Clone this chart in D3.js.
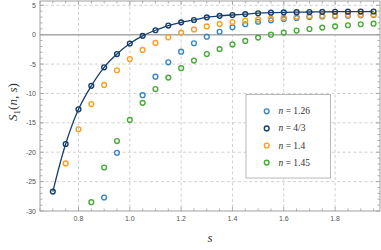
<!DOCTYPE html>
<html><head><meta charset="utf-8">
<script src="https://cdn.jsdelivr.net/npm/d3@7"></script>
<style>body{margin:0;background:#fff}svg{display:block}</style>
</head><body>
<script>
const sDark = [0.7,0.75,0.8,0.85,0.9,0.95,1.0,1.05,1.1,1.15,1.2,1.25,1.3,1.35,1.4,1.45,1.5,1.55,1.6,1.65,1.7,1.75,1.8,1.85,1.9,1.95];
const vDark = [-26.7,-18.6,-12.7,-8.7,-5.55,-3.3,-1.5,-0.2,0.75,1.55,2.1,2.5,2.95,3.2,3.35,3.5,3.65,3.75,3.8,3.83,3.86,3.88,3.9,3.92,3.93,3.94];
const sOrange = [0.75,0.8,0.85,0.9,0.95,1.0,1.05,1.1,1.15,1.2,1.25,1.3,1.35,1.4,1.45,1.5,1.55,1.6,1.65,1.7,1.75,1.8,1.85,1.9,1.95];
const vOrange = [-21.9,-16.1,-11.8,-8.55,-6.05,-4.15,-2.6,-1.4,-0.45,0.35,0.9,1.4,1.8,2.15,2.4,2.6,2.75,2.9,3.05,3.15,3.22,3.28,3.33,3.37,3.4];
const sBlue = [0.9,0.95,1.05,1.1,1.15,1.2,1.25,1.3,1.35,1.4,1.45,1.5,1.55,1.6,1.65,1.7,1.75,1.8,1.85,1.9,1.95];
const vBlue = [-27.7,-20.1,-10.3,-7.15,-4.7,-2.9,-1.46,-0.34,0.5,1.26,1.77,2.2,2.45,2.65,2.85,3.0,3.1,3.18,3.24,3.29,3.33];
const sGreen = [0.85,0.9,0.95,1.0,1.05,1.1,1.15,1.2,1.25,1.3,1.35,1.4,1.45,1.5,1.55,1.6,1.65,1.7,1.75,1.8,1.85,1.9,1.95];
const vGreen = [-28.5,-22.6,-18.1,-14.5,-11.6,-9.25,-7.3,-5.7,-4.4,-3.3,-2.45,-1.65,-1.07,-0.5,0.0,0.35,0.7,0.97,1.2,1.42,1.6,1.77,1.87];
const legendLabels = ["1.26","4/3","1.4","1.45"];
const xTicks = [0.8,1.0,1.2,1.4,1.6,1.8];
const yTicks = [5,0,-5,-10,-15,-20,-25,-30];

const W=381,H=250;
const colBlue="#3a86c6", colDark="#163f6e", colOrange="#f8a020", colGreen="#48ab3a";
const svg=d3.select("body").append("svg").attr("width",W).attr("height",H);
const L=40,R=380,T=1,B=211;
const x=d3.scaleLinear().domain([0.65,1.975]).range([L,R]);
const y=d3.scaleLinear().domain([-30,5.73]).range([B,T]);

// grid
const g=svg.append("g");
g.selectAll("line.gx").data(xTicks).join("line")
 .attr("x1",d=>x(d)).attr("x2",d=>x(d)).attr("y1",T).attr("y2",B)
 .attr("stroke","#d0d0d0").attr("stroke-width",1).attr("stroke-dasharray","3,2.5");
g.selectAll("line.gy").data(yTicks.filter(d=>d!==0&&d!==-30)).join("line")
 .attr("y1",d=>y(d)).attr("y2",d=>y(d)).attr("x1",L).attr("x2",R)
 .attr("stroke","#d0d0d0").attr("stroke-width",1).attr("stroke-dasharray","3,2.5");
// zero line
svg.append("line").attr("x1",L).attr("x2",R).attr("y1",y(0)).attr("y2",y(0))
 .attr("stroke","#a8a8a8").attr("stroke-width",1.5);

// axes with inward ticks
const tickCol="#999";
const xMinor=d3.range(0.65,1.976,0.05).map(v=>+v.toFixed(2));
const yMinor=d3.range(-30,6,1);
const ax=svg.append("g").attr("stroke",tickCol);
function drawTicksX(yy,dir){
  xMinor.forEach(v=>{const major=xTicks.some(t=>Math.abs(t-v)<1e-6);
    ax.append("line").attr("x1",x(v)).attr("x2",x(v)).attr("y1",yy).attr("y2",yy+dir*(major?4:2.5)).attr("stroke-width",0.8);});
}
function drawTicksY(xx,dir){
  yMinor.forEach(v=>{const major=v%5===0;
    ax.append("line").attr("y1",y(v)).attr("y2",y(v)).attr("x1",xx).attr("x2",xx+dir*(major?4:2.5)).attr("stroke-width",0.8);});
}
drawTicksX(B,-1);drawTicksX(T,1);drawTicksY(L,1);drawTicksY(R,-1);
svg.append("rect").attr("x",L).attr("y",T).attr("width",R-L).attr("height",B-T)
 .attr("fill","none").attr("stroke","#a0a0a0").attr("stroke-width",1);

// tick labels
const lab=svg.append("g").attr("font-family","Liberation Sans, Arial, sans-serif").attr("font-size",7).attr("fill","#555");
lab.selectAll("text.xl").data(xTicks).join("text").attr("x",d=>x(d)).attr("y",B+10).attr("text-anchor","middle").text(d=>d.toFixed(1));
lab.selectAll("text.yl").data(yTicks).join("text").attr("x",L-4).attr("y",d=>y(d)+2.5).attr("text-anchor","end").text(d=>d<0?"-"+(-d):String(d));

// axis titles
const serif="Liberation Serif, Times New Roman, serif";
const yl=svg.append("text").attr("transform",`translate(17,102) rotate(-90)`).attr("text-anchor","middle")
 .attr("font-family",serif).attr("font-size",13).attr("fill","#333");
yl.append("tspan").attr("font-style","italic").text("S");
yl.append("tspan").attr("font-size",9).attr("dy",3).text("1");
yl.append("tspan").attr("dy",-3).text("(");
yl.append("tspan").attr("font-style","italic").text("n");
yl.append("tspan").text(", ");
yl.append("tspan").attr("font-style","italic").text("s");
yl.append("tspan").text(")");
svg.append("text").attr("x",(L+R)/2).attr("y",242).attr("text-anchor","middle").attr("font-family",serif)
 .attr("font-style","italic").attr("font-size",13).attr("fill","#333").text("s");

// dark line
const line=d3.line().x((d,i)=>x(sDark[i])).y(d=>y(d)).curve(d3.curveCatmullRom);
svg.append("path").datum(vDark).attr("d",line).attr("fill","none").attr("stroke",colDark).attr("stroke-width",1.3);

function pts(ss,vv,col){
  svg.append("g").selectAll("circle").data(vv).join("circle")
   .attr("cx",(d,i)=>x(ss[i])).attr("cy",d=>y(d)).attr("r",2.4)
   .attr("fill","none").attr("stroke",col).attr("stroke-width",1.4);
}
pts(sGreen,vGreen,colGreen);
pts(sBlue,vBlue,colBlue);
pts(sOrange,vOrange,colOrange);
pts(sDark,vDark,colDark);

// legend
const lg=svg.append("g");
lg.append("rect").attr("x",246).attr("y",94.5).attr("width",84.5).attr("height",83.5).attr("fill","#fff").attr("stroke","#b8b8b8").attr("stroke-width",1);
const cols=[colBlue,colDark,colOrange,colGreen];
legendLabels.forEach((t,i)=>{
  const yy=111.3+i*17.1;
  lg.append("circle").attr("cx",266.7).attr("cy",yy).attr("r",2.4).attr("fill","none").attr("stroke",cols[i]).attr("stroke-width",1.4);
  const tx=lg.append("text").attr("x",278.5).attr("y",yy+3).attr("font-family",serif).attr("font-size",9.5).attr("fill","#333");
  tx.append("tspan").attr("font-style","italic").text("n");
  tx.append("tspan").text(" = "+t);
});
</script>
</body></html>
